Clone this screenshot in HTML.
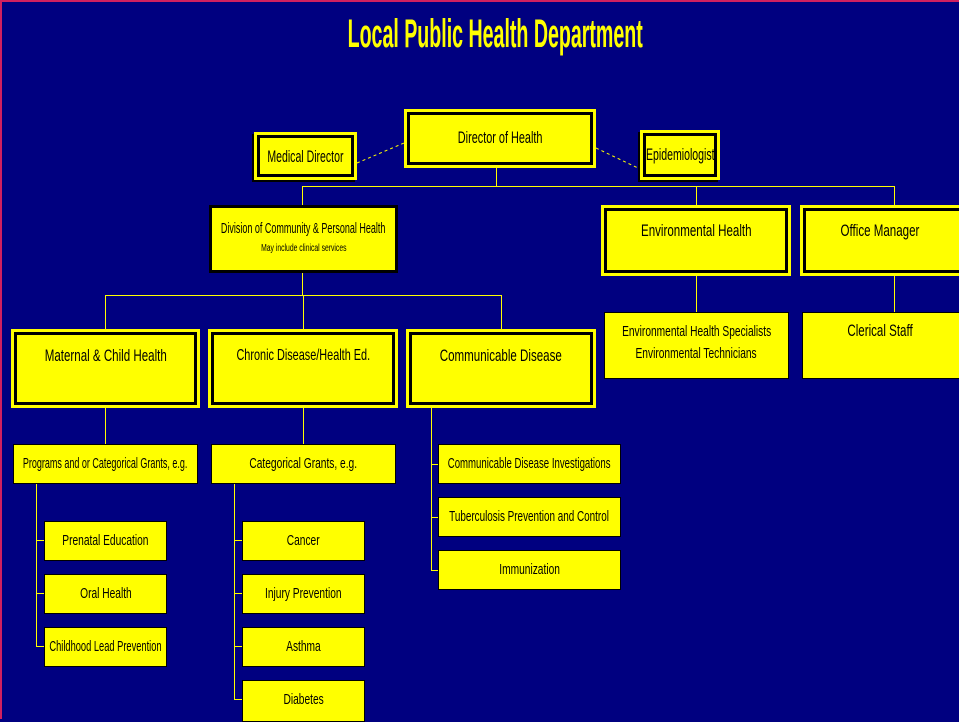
<!DOCTYPE html>
<html><head><meta charset="utf-8"><style>
body{margin:0;width:959px;height:719px;background:#000080;position:relative;overflow:hidden;font-family:"Liberation Sans",sans-serif;}
.b{position:absolute;background:#ff0;box-sizing:border-box;color:#000;display:flex;flex-direction:column;align-items:center;justify-content:flex-start;}
.s{border:1.5px solid #000;}
.d{border:2px solid #ff0;box-shadow:inset 0 0 0 1px #ff0, inset 0 0 0 4px #000;}
.t{display:block;flex-shrink:0;white-space:nowrap;transform:scaleX(.68);transform-origin:center;font-size:16px;line-height:18px;}
.l{position:absolute;background:#ff0;}
</style></head><body>
<div style="position:absolute;left:0;top:0;width:2px;height:719px;background:#d02060"></div>
<div style="position:absolute;left:0;top:0;width:959px;height:2px;background:#d02060"></div>
<div style="position:absolute;left:245px;width:500px;top:12px;display:flex;justify-content:center;color:#ff0;font-weight:bold;font-size:40px;line-height:44px;"><span style="display:block;flex-shrink:0;transform:scaleX(.49);white-space:nowrap">Local Public Health Department</span></div>

<svg style="position:absolute;left:0;top:0" width="959" height="719">
<line x1="357" y1="163" x2="404" y2="143" stroke="#ff0" stroke-width="1" stroke-dasharray="3,3"/>
<line x1="596" y1="148" x2="640" y2="169" stroke="#ff0" stroke-width="1" stroke-dasharray="3,3"/>
</svg>

<div class="l" style="left:496px;top:168px;width:1px;height:18px"></div>
<div class="l" style="left:302px;top:186px;width:593px;height:1px"></div>
<div class="l" style="left:302px;top:186px;width:1px;height:19px"></div>
<div class="l" style="left:696px;top:186px;width:1px;height:19px"></div>
<div class="l" style="left:894px;top:186px;width:1px;height:19px"></div>

<div class="l" style="left:302px;top:272px;width:1px;height:23px"></div>
<div class="l" style="left:105px;top:295px;width:397px;height:1px"></div>
<div class="l" style="left:105px;top:295px;width:1px;height:34px"></div>
<div class="l" style="left:303px;top:295px;width:1px;height:34px"></div>
<div class="l" style="left:501px;top:295px;width:1px;height:34px"></div>

<div class="l" style="left:696px;top:276px;width:1px;height:37px"></div>
<div class="l" style="left:894px;top:276px;width:1px;height:37px"></div>

<div class="l" style="left:105px;top:408px;width:1px;height:36px"></div>
<div class="l" style="left:303px;top:408px;width:1px;height:36px"></div>
<div class="l" style="left:431px;top:408px;width:1px;height:163px"></div>
<div class="l" style="left:431px;top:464px;width:7px;height:1px"></div>
<div class="l" style="left:431px;top:517px;width:7px;height:1px"></div>
<div class="l" style="left:431px;top:570px;width:7px;height:1px"></div>

<div class="l" style="left:36px;top:484px;width:1px;height:163px"></div>
<div class="l" style="left:36px;top:540px;width:8px;height:1px"></div>
<div class="l" style="left:36px;top:593px;width:8px;height:1px"></div>
<div class="l" style="left:36px;top:646px;width:8px;height:1px"></div>
<div class="l" style="left:234px;top:484px;width:1px;height:216px"></div>
<div class="l" style="left:234px;top:540px;width:8px;height:1px"></div>
<div class="l" style="left:234px;top:593px;width:8px;height:1px"></div>
<div class="l" style="left:234px;top:646px;width:8px;height:1px"></div>
<div class="l" style="left:234px;top:699px;width:8px;height:1px"></div>

<div class="b d" style="left:404px;top:109px;width:192px;height:59px;padding-top:18px"><span class="t" style="font-size:17px;transform:scaleX(.64)">Director of Health</span></div>
<div class="b d" style="left:254px;top:132px;width:103px;height:48px;box-shadow:inset 0 0 0 1px #ff0, inset 0 0 0 4px #000,-2px 2px 0 #000;padding-top:14px"><span class="t" style="font-size:17px;transform:scaleX(.62)">Medical Director</span></div>
<div class="b d" style="left:640px;top:130px;width:80px;height:50px;box-shadow:inset 0 0 0 1px #ff0, inset 0 0 0 4px #000,-2px 2px 0 #000;padding-top:14px"><span class="t" style="font-size:17px;transform:scaleX(.62)">Epidemiologist</span></div>

<div class="b" style="left:209px;top:205px;width:189px;height:68px;border:3px solid #000;padding-top:12px"><span class="t" style="font-size:15px;transform:scaleX(.6)">Division of Community &amp; Personal Health</span><span class="t" style="font-size:10px;line-height:22px">May include clinical services</span></div>
<div class="b d" style="left:601px;top:205px;width:190px;height:71px;padding-top:15px"><span class="t" style="font-size:17px">Environmental Health</span></div>
<div class="b d" style="left:800px;top:205px;width:165px;height:71px;padding-top:15px;padding-right:6px"><span class="t" style="font-size:17px">Office Manager</span></div>

<div class="b d" style="left:11px;top:329px;width:189px;height:79px;padding-top:16px"><span class="t" style="font-size:17px">Maternal &amp; Child Health</span></div>
<div class="b d" style="left:208px;top:329px;width:190px;height:79px;padding-top:16px"><span class="t" style="font-size:16px">Chronic Disease/Health Ed.</span></div>
<div class="b d" style="left:406px;top:329px;width:190px;height:79px;padding-top:16px"><span class="t" style="font-size:17px">Communicable Disease</span></div>

<div class="b s" style="left:604px;top:312px;width:185px;height:67px;padding-top:6px"><span class="t" style="font-size:15px;line-height:26px">Environmental Health Specialists</span><span class="t" style="font-size:15px">Environmental Technicians</span></div>
<div class="b s" style="left:802px;top:312px;width:160px;height:67px;padding-top:9px;padding-right:4px"><span class="t" style="font-size:17px">Clerical Staff</span></div>

<div class="b s" style="left:13px;top:444px;width:185px;height:40px;padding-top:10px"><span class="t" style="font-size:15px;transform:scaleX(.6)">Programs and or Categorical Grants, e.g.</span></div>
<div class="b s" style="left:211px;top:444px;width:185px;height:40px;padding-top:10px"><span class="t" style="font-size:15px">Categorical Grants, e.g.</span></div>

<div class="b s" style="left:438px;top:444px;width:183px;height:40px;padding-top:10px"><span class="t" style="font-size:15px;transform:scaleX(.64)">Communicable Disease Investigations</span></div>
<div class="b s" style="left:438px;top:497px;width:183px;height:40px;padding-top:10px"><span class="t" style="font-size:15px;transform:scaleX(.66)">Tuberculosis Prevention and Control</span></div>
<div class="b s" style="left:438px;top:550px;width:183px;height:40px;padding-top:10px"><span class="t" style="font-size:15px">Immunization</span></div>

<div class="b s" style="left:44px;top:521px;width:123px;height:40px;padding-top:10px"><span class="t" style="font-size:15px">Prenatal Education</span></div>
<div class="b s" style="left:44px;top:574px;width:123px;height:40px;padding-top:10px"><span class="t" style="font-size:15px">Oral Health</span></div>
<div class="b s" style="left:44px;top:627px;width:123px;height:40px;padding-top:10px"><span class="t" style="font-size:15px;transform:scaleX(.62)">Childhood Lead Prevention</span></div>

<div class="b s" style="left:242px;top:521px;width:123px;height:40px;padding-top:10px"><span class="t" style="font-size:15px">Cancer</span></div>
<div class="b s" style="left:242px;top:574px;width:123px;height:40px;padding-top:10px"><span class="t" style="font-size:15px">Injury Prevention</span></div>
<div class="b s" style="left:242px;top:627px;width:123px;height:40px;padding-top:10px"><span class="t" style="font-size:15px">Asthma</span></div>
<div class="b s" style="left:242px;top:680px;width:123px;height:42px;padding-top:10px"><span class="t" style="font-size:15px">Diabetes</span></div>
</body></html>
